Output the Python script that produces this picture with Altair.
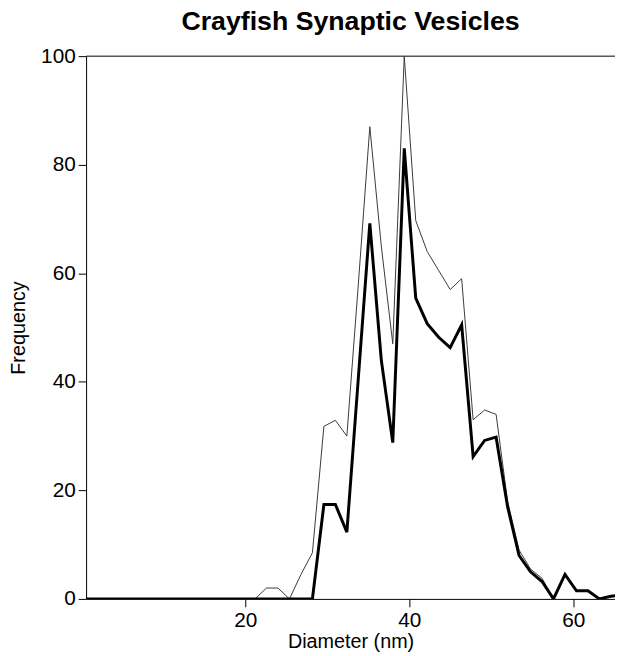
import altair as alt
import pandas as pd

# Diameter (nm) at each histogram vertex
diameter = [0.6, 21.2, 22.6, 24.0, 25.4, 26.8, 28.2, 29.6, 31.0, 32.4, 33.8, 35.2, 36.6,
            38.0, 39.4, 40.8, 42.2, 43.6, 45.0, 46.4, 47.8, 49.2, 50.6, 52.0, 53.4,
            54.8, 56.2, 57.6, 59.0, 60.4, 61.8, 63.2, 64.6, 66.0]

# thin line (upper trace)
freq_thin = [0, 0, 2, 2, 0, 4.5, 8.5, 31.8, 32.9, 30, 58, 87, 65,
             47, 100, 69.7, 64, 60.5, 57, 59, 33, 34.8, 34, 18, 9,
             5.5, 3.8, 0, 4.5, 1.5, 1.5, 0, 0.5, 0.7]

# thick line (lower trace)
freq_thick = [0, 0, 0, 0, 0, 0, 0, 17.4, 17.4, 12.3, 40.7, 69.2, 44,
              28.8, 83, 55.4, 50.7, 48.2, 46.3, 50.5, 26.2, 29.2, 29.8, 17, 8,
              5, 3.2, 0, 4.5, 1.5, 1.5, 0, 0.5, 0.7]

x_ticks = [20, 40, 60]
y_ticks = [0, 20, 40, 60, 80, 100]

df_thin = pd.DataFrame({"d": diameter, "f": freq_thin})
df_thick = pd.DataFrame({"d": diameter, "f": freq_thick})

FONT = "Liberation Sans"

x_enc = alt.X("d:Q",
              scale=alt.Scale(domain=[0.6, 65.1], nice=False, zero=False),
              axis=alt.Axis(values=x_ticks, title="Diameter (nm)", grid=False))
y_enc = alt.Y("f:Q",
              scale=alt.Scale(domain=[0, 100], nice=False),
              axis=alt.Axis(values=y_ticks, title="Frequency", grid=False))

thin_line = alt.Chart(df_thin).mark_line(color="#3a3a3a", strokeWidth=1, clip=True).encode(
    x=x_enc, y=y_enc)
thick_line = alt.Chart(df_thick).mark_line(color="#000000", strokeWidth=3, clip=True,
                                           strokeJoin="miter").encode(x=x_enc, y=y_enc)

top_rule = alt.Chart(pd.DataFrame({"f": [100]})).mark_rule(color="#000000", strokeWidth=1).encode(
    y=alt.Y("f:Q", scale=alt.Scale(domain=[0, 100], nice=False)))

chart = alt.layer(top_rule, thin_line, thick_line).properties(
    width=535,
    height=549,
    title=alt.TitleParams("Crayfish Synaptic Vesicles", font=FONT, fontSize=27,
                          fontWeight="bold", color="#000000", anchor="middle", offset=9),
    padding={"left": 79, "top": 45, "right": 0, "bottom": 50},
    autosize=alt.AutoSizeParams(type="none"),
).configure_view(stroke=None).configure_axis(
    labelFont=FONT, titleFont=FONT, labelFontSize=21, titleFontSize=20,
    titleFontWeight="normal", labelColor="#000000", titleColor="#000000",
    domainColor="#000000", tickColor="#000000", domainWidth=1, tickWidth=1,
    tickSize=8, labelPadding=3,
).configure_axisX(titlePadding=1).configure_axisY(titlePadding=12)

chart.save("out.html", embed_options={"renderer": "svg", "actions": False})
